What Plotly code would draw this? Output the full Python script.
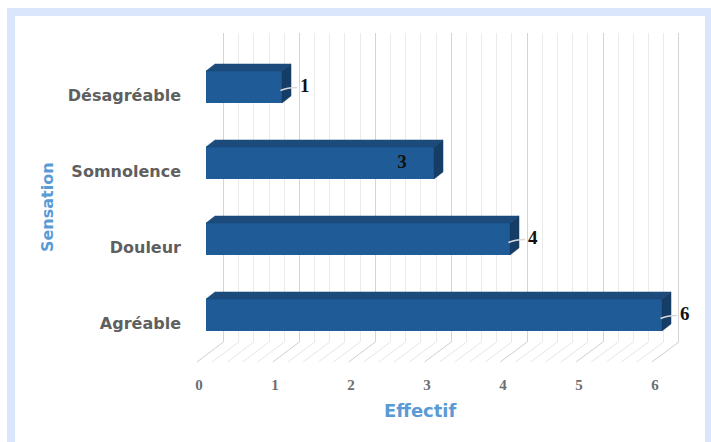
import plotly.graph_objects as go

# ---- data ----
categories = ["Agréable", "Douleur", "Somnolence", "Désagréable"]
values = [6, 4, 3, 1]
x_ticks = [0, 1, 2, 3, 4, 5, 6]
label_inside = [False, False, True, False]

W, H = 711, 442
PX = 76.0          # pixels per unit on bar axis
X0 = 206.0         # pixel of value 0 (bar front)
YL0 = 323.0        # pixel of first category label
PY = 76.0          # pixels per category

def px_x(p):  # pixel -> data x (bar axis)
    return (p - X0) / PX

def px_y(p):  # pixel -> data y (bar axis)
    return (YL0 - p) / PY

FRONT = "#1f5b97"
TOP = "#1b4a7b"
SIDE = "#163d66"
DX, DY = 9 / PX, 7 / PY
OFF, WID = -0.105, 0.421

fig = go.Figure()

# ---- back wall grid (xaxis / yaxis) ----
fig.add_trace(go.Scatter(x=[0, 6], y=[0, 1], mode="markers", marker=dict(opacity=0),
                         hoverinfo="skip", showlegend=False, xaxis="x", yaxis="y"))

# ---- floor hatch lines (bar axes) ----
fx_off = px_x(197)
bx_off = px_x(223.5)
yf, yb = px_y(362), px_y(342)
maj_x, maj_y, min_x, min_y = [], [], [], []
n = int(round(max(x_ticks) / 0.2))
for k in range(n + 1):
    t = k * 0.2
    xf = fx_off + t * 75.8 / PX
    xb = bx_off + t * 75.9 / PX
    if k % 5 == 0:
        maj_x += [xf, xb, None]; maj_y += [yf, yb, None]
    else:
        min_x += [xf, xb, None]; min_y += [yf, yb, None]
fig.add_trace(go.Scatter(x=min_x, y=min_y, mode="lines", line=dict(color="#e6e6e6", width=1),
                         hoverinfo="skip", showlegend=False, xaxis="x2", yaxis="y2"))
fig.add_trace(go.Scatter(x=maj_x, y=maj_y, mode="lines", line=dict(color="#cfcfcf", width=1),
                         hoverinfo="skip", showlegend=False, xaxis="x2", yaxis="y2"))

# ---- bars: front faces ----
idx = list(range(len(categories)))
fig.add_trace(go.Bar(x=values, y=idx, orientation="h", width=WID, offset=OFF,
                     marker=dict(color=FRONT, line=dict(width=0)),
                     hoverinfo="skip", showlegend=False, xaxis="x2", yaxis="y2"))

# ---- top & side faces ----
for i, v in zip(idx, values):
    b = i + OFF
    t = b + WID
    fig.add_trace(go.Scatter(x=[0, v, v + DX, DX, 0], y=[t, t, t + DY, t + DY, t],
                             fill="toself", fillcolor=TOP, mode="lines",
                             line=dict(color=TOP, width=0.5),
                             hoverinfo="skip", showlegend=False, xaxis="x2", yaxis="y2"))
    fig.add_trace(go.Scatter(x=[v, v, v + DX, v + DX, v], y=[b, t, t + DY, b + DY, b],
                             fill="toself", fillcolor=SIDE, mode="lines",
                             line=dict(color=SIDE, width=0.5),
                             hoverinfo="skip", showlegend=False, xaxis="x2", yaxis="y2"))

# ---- leader lines ----
lx, ly = [], []
for i, v, ins in zip(idx, values, label_inside):
    if not ins:
        lx += [v - 0.02, v + 0.08, v + 0.2, None]
        ly += [i + 0.06, i + 0.09, i + 0.1, None]
fig.add_trace(go.Scatter(x=lx, y=ly, mode="lines", line=dict(color="#d9d9d9", width=1.5, shape="spline"),
                         hoverinfo="skip", showlegend=False, xaxis="x2", yaxis="y2"))

# ---- data labels ----
lab_x = [v - 0.42 if ins else v + 0.3 for v, ins in zip(values, label_inside)]
lab_y = [i + 0.1 for i in idx]
fig.add_trace(go.Scatter(x=lab_x, y=lab_y, mode="text", text=[str(v) for v in values],
                         textfont=dict(family="Liberation Serif", size=19, color="#111111"),
                         texttemplate="<b>%{text}</b>",
                         hoverinfo="skip", showlegend=False, xaxis="x2", yaxis="y2"))

# ---- layout ----
wall_x0 = 223.5 - 0.05 * 75.9
wall_x1 = 679.0 + 0.05 * 75.9
bar_dom_x0, bar_dom_x1 = 186.0, 700.0
bar_dom_top, bar_dom_bot = 30.0, 368.0

fig.update_layout(
    width=W, height=H,
    margin=dict(l=0, r=0, t=0, b=0),
    paper_bgcolor="white",
    plot_bgcolor="rgba(0,0,0,0)",
    showlegend=False,
    xaxis=dict(domain=[wall_x0 / W, wall_x1 / W], range=[-0.05, 6.05], anchor="y",
               showgrid=True, gridcolor="#d4d4d4", gridwidth=1, dtick=1, tick0=0,
               minor=dict(dtick=0.2, showgrid=True, gridcolor="#ebebeb", gridwidth=1),
               zeroline=False, showticklabels=False, ticks="", showline=False, fixedrange=True),
    yaxis=dict(domain=[1 - 342 / H, 1 - 33 / H], range=[0, 1], anchor="x",
               showgrid=False, zeroline=False, showticklabels=False, ticks="", fixedrange=True),
    xaxis2=dict(domain=[bar_dom_x0 / W, bar_dom_x1 / W],
                range=[px_x(bar_dom_x0), px_x(bar_dom_x1)], anchor="y2",
                tickvals=x_ticks, ticktext=[str(t) for t in x_ticks],
                showgrid=False, zeroline=False, ticks="", showline=False,
                ticklabelshift=-7, ticklabelstandoff=6,
                tickfont=dict(family="Liberation Serif", size=15, color="#6e6e6e", weight="bold"),
                fixedrange=True),
    yaxis2=dict(domain=[1 - bar_dom_bot / H, 1 - bar_dom_top / H],
                range=[px_y(bar_dom_bot), px_y(bar_dom_top)], anchor="x2",
                tickvals=idx, ticktext=categories,
                showgrid=False, zeroline=False, ticks="", showline=False,
                ticklabelstandoff=4,
                tickfont=dict(family="DejaVu Sans", size=16, color="#5f5f5f", weight="bold"),
                fixedrange=True),
    shapes=[dict(type="rect", xref="paper", yref="paper",
                 x0=11 / W, x1=709 / W, y0=-20 / H, y1=1 - 12 / H,
                 line=dict(color="#dae6fb", width=8), fillcolor="rgba(0,0,0,0)", layer="below")],
    annotations=[
        dict(text="<b>Effectif</b>", xref="paper", yref="paper", x=421 / W, y=1 - 410 / H,
             showarrow=False, font=dict(family="DejaVu Sans", size=18, color="#5b9bd5"),
             xanchor="center", yanchor="middle"),
        dict(text="<b>Sensation</b>", xref="paper", yref="paper", x=47 / W, y=1 - 207 / H,
             showarrow=False, textangle=-90, font=dict(family="DejaVu Sans", size=16, color="#5b9bd5"),
             xanchor="center", yanchor="middle"),
    ],
)

fig.write_html("out.html")
